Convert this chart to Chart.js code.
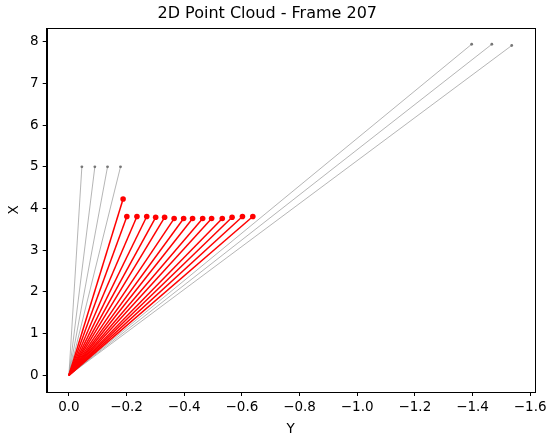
<!DOCTYPE html>
<html>
<head>
<meta charset="utf-8">
<script src="https://cdn.jsdelivr.net/npm/chart.js@4.4.1/dist/chart.umd.min.js"></script>
<style>
  html, body { margin: 0; padding: 0; background: #fff; }
  #wrap { width: 550px; height: 438px; }
</style>
</head>
<body>
<div id="wrap"><canvas id="cloud"></canvas></div>
<script>
// Sensor origin
const ORIGIN_Y = 0;
const ORIGIN_X = 0;

// Gray points (background returns), horizontal = Y, vertical = X
const grayY = [-0.045, -0.090, -0.134, -0.179, -1.397, -1.467, -1.536];
const grayX = [5.00, 5.00, 5.00, 5.00, 7.94, 7.94, 7.91];

// Red points (detected cluster)
const redY = [-0.188, -0.201, -0.236, -0.270, -0.301, -0.332, -0.365, -0.398,
              -0.429, -0.464, -0.495, -0.532, -0.566, -0.602, -0.638];
const redX = [4.23, 3.81, 3.81, 3.81, 3.79, 3.79, 3.76, 3.76,
              3.76, 3.76, 3.76, 3.76, 3.79, 3.81, 3.81];

// Axis ticks
const yTicks = [0, -0.2, -0.4, -0.6, -0.8, -1.0, -1.2, -1.4, -1.6];
const xTicks = [0, 1, 2, 3, 4, 5, 6, 7, 8];

const FONT = 'DejaVu Sans';

function ray(y, x, color, width, radius) {
  return {
    data: [{ x: ORIGIN_Y, y: ORIGIN_X }, { x: y, y: x }],
    showLine: true,
    borderColor: color.line,
    borderWidth: width,
    pointRadius: [0, radius],
    pointBackgroundColor: color.point,
    pointBorderWidth: 0,
    pointHoverRadius: 0
  };
}

const datasets = [];
redY.forEach((y, i) => {
  datasets.push(ray(y, redX[i], { line: '#ff0000', point: '#ff0000' }, 1.5, 2.8));
});
grayY.forEach((y, i) => {
  datasets.push(ray(y, grayX[i], { line: 'rgba(150,150,150,0.7)', point: '#777777' }, 1, 1.4));
});

// box around the plot area, like a matplotlib frame
const frame = {
  id: 'frame',
  afterDraw(chart) {
    const a = chart.chartArea;
    const c = chart.ctx;
    c.save();
    c.strokeStyle = '#000';
    c.lineWidth = 1;
    c.strokeRect(Math.round(a.left) + 0.5, Math.round(a.top) + 0.5,
      Math.round(a.right - a.left), Math.round(a.bottom - a.top));
    c.restore();
  }
};

new Chart(document.getElementById('cloud'), {
  type: 'scatter',
  data: { datasets },
  options: {
    responsive: true,
    maintainAspectRatio: false,
    animation: false,
    layout: { padding: { left: 0, right: 15.5, top: 0, bottom: 0 } },
    plugins: {
      legend: { display: false },
      tooltip: { enabled: false },
      title: {
        display: true,
        text: '2D Point Cloud - Frame 207',
        color: '#000',
        font: { family: FONT, size: 16, weight: 'normal' },
        padding: { top: 4, bottom: 4.8 }
      }
    },
    scales: {
      x: {
        type: 'linear',
        reverse: true,
        min: -1.615,
        max: 0.077,
        afterBuildTicks: (s) => { s.ticks = yTicks.map(v => ({ value: v })); },
        afterFit: (s) => { s.height = 46; },
        grid: { drawOnChartArea: false, color: '#000', tickLength: 4 },
        border: { color: '#000' },
        ticks: {
          color: '#000',
          padding: 3,
          maxRotation: 0,
          font: { family: FONT, size: 13.5 },
          callback: (v) => v === 0 ? '0.0' : '\u2212' + Math.abs(v).toFixed(1)
        },
        title: {
          display: true, text: 'Y', color: '#000',
          font: { family: FONT, size: 13.5 }, padding: { top: 0, bottom: 0 }
        }
      },
      y: {
        type: 'linear',
        min: -0.40,
        max: 8.33,
        afterBuildTicks: (s) => { s.ticks = xTicks.map(v => ({ value: v })); },
        afterFit: (s) => { s.width = 46.7; },
        grid: { drawOnChartArea: false, color: '#000', tickLength: 4 },
        border: { color: '#000' },
        ticks: {
          color: '#000',
          padding: 4,
          font: { family: FONT, size: 13.5 },
          callback: (v) => String(v)
        },
        title: {
          display: true, text: 'X', color: '#000',
          font: { family: FONT, size: 13.5 }, padding: { top: 6, bottom: 0 }
        }
      }
    }
  },
  plugins: [frame]
});
</script>
</body>
</html>
